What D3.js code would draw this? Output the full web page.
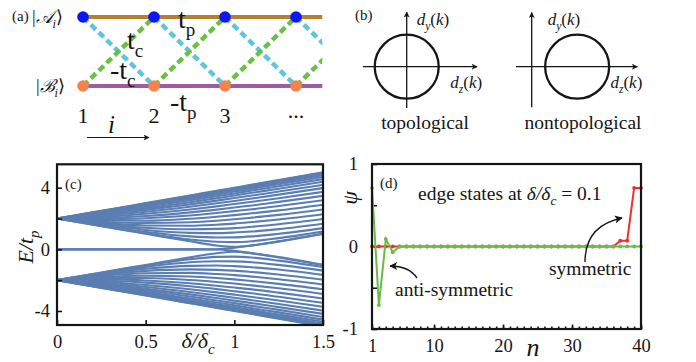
<!DOCTYPE html>
<html><head><meta charset="utf-8">
<script src="https://cdn.jsdelivr.net/npm/d3@7"></script>
<style>
html,body{margin:0;padding:0;background:#fff;}
svg{display:block;}
</style></head><body>
<svg id="fig" width="696" height="362"></svg>
<script>
// ---------------- data ----------------
// (a) ladder cells
const cells = [1, 2, 3, 4];
const cellLabels = ["1", "2", "3", "..."];
const railEnd = 4.37;

// (b) winding diagrams: circle centre along d_z (in units of the radius)
const bTitles = ["topological", "nontopological"];
const bCircleCenter = [0, 1.42];
const bAxisZ = [[-1.37, 2.2], [-0.49, 3.3]];
const bAxisY = [[-1.29, 1.71], [-1.27, 1.69]];

// (c) spectrum E/t_p versus delta/delta_c
const deltaSamples = [0, 0.25, 0.5, 0.75, 0.9, 1.0, 1.1, 1.25, 1.5];
const upperBand = [
  [2, 2.50, 3.00, 3.50, 3.80, 4.00, 4.20, 4.50, 5.00],
  [2, 2.49, 2.98, 3.48, 3.77, 3.97, 4.17, 4.47, 4.97],
  [2, 2.47, 2.95, 3.43, 3.73, 3.92, 4.12, 4.41, 4.91],
  [2, 2.44, 2.90, 3.37, 3.66, 3.85, 4.04, 4.33, 4.82],
  [2, 2.40, 2.84, 3.29, 3.57, 3.75, 3.94, 4.23, 4.70],
  [2, 2.36, 2.76, 3.19, 3.45, 3.63, 3.82, 4.09, 4.56],
  [2, 2.30, 2.66, 3.06, 3.32, 3.49, 3.67, 3.93, 4.39],
  [2, 2.24, 2.56, 2.92, 3.16, 3.33, 3.49, 3.75, 4.19],
  [2, 2.17, 2.44, 2.77, 2.99, 3.14, 3.30, 3.55, 3.98],
  [2, 2.10, 2.31, 2.59, 2.79, 2.94, 3.09, 3.32, 3.73],
  [2, 2.02, 2.16, 2.40, 2.58, 2.72, 2.85, 3.08, 3.47],
  [2, 1.95, 2.02, 2.20, 2.36, 2.48, 2.60, 2.81, 3.19],
  [2, 1.87, 1.86, 1.99, 2.12, 2.22, 2.34, 2.53, 2.90],
  [2, 1.79, 1.71, 1.76, 1.86, 1.95, 2.06, 2.24, 2.59],
  [2, 1.72, 1.55, 1.53, 1.60, 1.67, 1.77, 1.94, 2.28],
  [2, 1.65, 1.40, 1.30, 1.33, 1.38, 1.47, 1.63, 1.97],
  [2, 1.60, 1.26, 1.07, 1.05, 1.09, 1.16, 1.31, 1.66],
  [2, 1.55, 1.14, 0.84, 0.77, 0.78, 0.84, 1.01, 1.38],
  [2, 1.52, 1.05, 0.64, 0.49, 0.47, 0.53, 0.73, 1.15],
  [2, 1.50, 1.01, 0.52, 0.25, 0.16, 0.26, 0.53, 1.02]
];
const lowerBand = [
  [-2, -2.50, -3.00, -3.50, -3.80, -4.00, -4.20, -4.50, -5.00],
  [-2, -2.49, -2.98, -3.48, -3.77, -3.97, -4.17, -4.47, -4.97],
  [-2, -2.47, -2.95, -3.43, -3.73, -3.92, -4.12, -4.41, -4.91],
  [-2, -2.44, -2.90, -3.37, -3.66, -3.85, -4.04, -4.33, -4.82],
  [-2, -2.40, -2.84, -3.29, -3.57, -3.75, -3.94, -4.23, -4.70],
  [-2, -2.36, -2.76, -3.19, -3.45, -3.63, -3.82, -4.09, -4.56],
  [-2, -2.30, -2.66, -3.06, -3.32, -3.49, -3.67, -3.93, -4.39],
  [-2, -2.24, -2.56, -2.92, -3.16, -3.33, -3.49, -3.75, -4.19],
  [-2, -2.17, -2.44, -2.77, -2.99, -3.14, -3.30, -3.55, -3.98],
  [-2, -2.10, -2.31, -2.59, -2.79, -2.94, -3.09, -3.32, -3.73],
  [-2, -2.02, -2.16, -2.40, -2.58, -2.72, -2.85, -3.08, -3.47],
  [-2, -1.95, -2.02, -2.20, -2.36, -2.48, -2.60, -2.81, -3.19],
  [-2, -1.87, -1.86, -1.99, -2.12, -2.22, -2.34, -2.53, -2.90],
  [-2, -1.79, -1.71, -1.76, -1.86, -1.95, -2.06, -2.24, -2.59],
  [-2, -1.72, -1.55, -1.53, -1.60, -1.67, -1.77, -1.94, -2.28],
  [-2, -1.65, -1.40, -1.30, -1.33, -1.38, -1.47, -1.63, -1.97],
  [-2, -1.60, -1.26, -1.07, -1.05, -1.09, -1.16, -1.31, -1.66],
  [-2, -1.55, -1.14, -0.84, -0.77, -0.78, -0.84, -1.01, -1.38],
  [-2, -1.52, -1.05, -0.64, -0.49, -0.47, -0.53, -0.73, -1.15],
  [-2, -1.50, -1.01, -0.52, -0.25, -0.16, -0.26, -0.53, -1.02]
];
const edgeUpper = [0, 0, 0, 0, 0.01, 0.10, 0.25, 0.50, 1.00];
const edgeLower = [0, 0, 0, 0, -0.01, -0.10, -0.25, -0.50, -1.00];
const eTicks = [-4, -2, 0, 2, 4];
const eTickLabels = [-4, 0, 4];
const deltaTicks = [0, 0.5, 1, 1.5];

// (d) edge-state amplitudes on sites n = 1..40
const sites = [1,2,3,4,5,6,7,8,9,10,11,12,13,14,15,16,17,18,19,20,
               21,22,23,24,25,26,27,28,29,30,31,32,33,34,35,36,37,38,39,40];
const symmetric = [0,0,0,0,0,0,0,0,0,0, 0,0,0,0,0,0,0,0,0,0,
                   0,0,0,0,0,0,0,0,0,0, 0,0,0,0,0,0,0.07,0.07,0.71,0.71];
const antiSymmetric = [0.71,-0.71,0.09,-0.07,0,0,0,0,0,0, 0,0,0,0,0,0,0,0,0,0,
                       0,0,0,0,0,0,0,0,0,0, 0,0,0,0,0,0,0,0,0,0];
const nTicks = [1, 10, 20, 30, 40];
const psiTicks = [-1, -0.5, 0, 0.5, 1];
const psiTickLabels = [-1, 0, 1];

// ---------------- helpers ----------------
const FONT = "'Liberation Serif', 'DejaVu Serif', 'Times New Roman', serif";
const INK = "#151515";
const svg = d3.select("#fig");
const defs = svg.append("defs");

function arrowMarker(id, len, wid) {
  defs.append("marker").attr("id", id)
    .attr("viewBox", "0 0 10 10").attr("refX", 9).attr("refY", 5)
    .attr("markerUnits", "userSpaceOnUse")
    .attr("markerWidth", len).attr("markerHeight", wid)
    .attr("orient", "auto")
    .append("path").attr("d", "M0,0 L10,5 L0,10 L2.5,5 Z").attr("fill", INK);
}
arrowMarker("headSmall", 8, 6);
arrowMarker("headMid", 10, 8);

// rich text made of parts {t, it, sub}
function richText(g, x, y, size, parts, anchor) {
  const t = g.append("text").attr("x", x).attr("y", y)
    .attr("font-size", size).attr("text-anchor", anchor || "start");
  let shift = 0;
  parts.forEach(p => {
    const s = t.append("tspan").text(p.t);
    if (p.it) s.attr("font-style", "italic");
    const want = p.sub ? size * 0.28 : 0;
    if (want !== shift) { s.attr("dy", want - shift); shift = want; }
    s.attr("font-size", p.sub ? size * 0.68 : size);
  });
  return t;
}

// ---------------- (a) ladder ----------------
const ga = svg.append("g");
const ax = d3.scaleLinear().domain([1, 4]).range([83, 296]);
const rowA = 17, rowB = 86;
defs.append("clipPath").attr("id", "clipA")
  .append("rect").attr("x", 0).attr("y", 0).attr("width", ax(railEnd)).attr("height", 110);

const hops = ga.append("g").attr("clip-path", "url(#clipA)");
hops.selectAll("line.cyan").data(cells).join("line")
  .attr("x1", d => ax(d)).attr("y1", rowA).attr("x2", d => ax(d + 1)).attr("y2", rowB)
  .attr("stroke", "#5ec6dc").attr("stroke-width", 4.5).attr("stroke-dasharray", "7,4");
hops.selectAll("line.green").data(cells).join("line")
  .attr("x1", d => ax(d)).attr("y1", rowB).attr("x2", d => ax(d + 1)).attr("y2", rowA)
  .attr("stroke", "#6cbf45").attr("stroke-width", 4.5).attr("stroke-dasharray", "7,4");

ga.append("line").attr("x1", ax(1)).attr("x2", ax(railEnd)).attr("y1", rowA).attr("y2", rowA)
  .attr("stroke", "#b5802e").attr("stroke-width", 4);
ga.append("line").attr("x1", ax(1)).attr("x2", ax(railEnd)).attr("y1", rowB).attr("y2", rowB)
  .attr("stroke", "#a05aa6").attr("stroke-width", 4);

ga.selectAll("circle.a").data(cells).join("circle")
  .attr("cx", d => ax(d)).attr("cy", rowA).attr("r", 5.8).attr("fill", "#0d16f5");
ga.selectAll("circle.b").data(cells).join("circle")
  .attr("cx", d => ax(d)).attr("cy", rowB).attr("r", 5.8).attr("fill", "#f5834c");

ga.selectAll("text.cell").data(cells).join("text")
  .attr("x", d => ax(d)).attr("y", (d, i) => cellLabels[i] === "..." ? 118 : 123)
  .attr("text-anchor", "middle").attr("font-size", 22)
  .text((d, i) => cellLabels[i]);

ga.append("text").attr("x", 12).attr("y", 21).attr("font-size", 15).text("(a)");
richText(ga, 32, 23, 18, [{t: "|"}, {t: "𝒜", it: true}, {t: "i", it: true, sub: true}, {t: "⟩"}]);
richText(ga, 36, 92, 18, [{t: "|"}, {t: "ℬ", it: true}, {t: "i", it: true, sub: true}, {t: "⟩"}]);

richText(ga, 178, 28, 28, [{t: "t"}, {t: "p", sub: true}]);
richText(ga, 127, 49, 28, [{t: "t"}, {t: "c", sub: true}]);
richText(ga, 110, 79, 28, [{t: "-t"}, {t: "c", sub: true}]);
richText(ga, 170, 111, 28, [{t: "-t"}, {t: "p", sub: true}]);

ga.append("text").attr("x", 108).attr("y", 133).attr("font-size", 25)
  .attr("font-style", "italic").text("i");
ga.append("line").attr("x1", 87).attr("x2", 149).attr("y1", 137.5).attr("y2", 137.5)
  .attr("stroke", INK).attr("stroke-width", 1.1).attr("marker-end", "url(#headSmall)");

// ---------------- (b) winding diagrams ----------------
const gb = svg.append("g");
const bOrigins = [[406.7, 66.7], [531.7, 66.7]];
const bR = 32;
gb.append("text").attr("x", 355).attr("y", 20).attr("font-size", 15).text("(b)");
bTitles.forEach((title, i) => {
  const [ox, oy] = bOrigins[i];
  const sz = d3.scaleLinear().domain([0, 1]).range([ox, ox + bR]);
  const sy = d3.scaleLinear().domain([0, 1]).range([oy, oy - bR]);
  const g = gb.append("g");
  g.append("line").attr("x1", sz(bAxisZ[i][0])).attr("x2", sz(bAxisZ[i][1]))
    .attr("y1", sy(0)).attr("y2", sy(0))
    .attr("stroke", INK).attr("stroke-width", 1.3).attr("marker-end", "url(#headSmall)");
  g.append("line").attr("x1", sz(0)).attr("x2", sz(0))
    .attr("y1", sy(bAxisY[i][0])).attr("y2", sy(bAxisY[i][1]))
    .attr("stroke", INK).attr("stroke-width", 1.3).attr("marker-end", "url(#headSmall)");
  g.append("circle").attr("cx", sz(bCircleCenter[i])).attr("cy", sy(0)).attr("r", bR)
    .attr("fill", "none").attr("stroke", INK).attr("stroke-width", 2.3);
  richText(g, sz(0) + (i === 0 ? 10 : 16), 25, 17,
    [{t: "d", it: true}, {t: "y", it: true, sub: true}, {t: "("}, {t: "k", it: true}, {t: ")"}]);
  richText(g, sz(bAxisZ[i][1]) + 5, 88, 17,
    [{t: "d", it: true}, {t: "z", it: true, sub: true}, {t: "("}, {t: "k", it: true}, {t: ")"}], "end");
  g.append("text").attr("x", i === 0 ? 425 : 583).attr("y", 129)
    .attr("text-anchor", "middle").attr("font-size", 19.5).text(title);
});

// ---------------- (c) spectrum ----------------
const gc = svg.append("g");
const cx = d3.scaleLinear().domain([0, 1.5]).range([57, 323]);
const cy = d3.scaleLinear().domain([-4.91, 5.52]).range([325, 164.3]);
defs.append("clipPath").attr("id", "clipC").append("rect")
  .attr("x", cx(0)).attr("y", cy(5.52)).attr("width", cx(1.5) - cx(0)).attr("height", cy(-4.91) - cy(5.52));

const bandLine = d3.line()
  .x((v, i) => cx(deltaSamples[i])).y(v => cy(v))
  .curve(d3.curveMonotoneX);
const allLines = upperBand.concat(lowerBand, [edgeUpper, edgeLower]);
gc.append("g").attr("clip-path", "url(#clipC)")
  .selectAll("path").data(allLines).join("path")
  .attr("d", bandLine).attr("fill", "none")
  .attr("stroke", "#5a7eb1").attr("stroke-width", 2.1);

const cLeft = gc.append("g").attr("transform", `translate(${cx(0)},0)`)
  .call(d3.axisLeft(cy).tickValues(eTicks).tickSizeInner(-5).tickSizeOuter(0).tickPadding(7)
    .tickFormat(d => eTickLabels.includes(d) ? String(d) : ""));
const cBottom = gc.append("g").attr("transform", `translate(0,${cy(-4.91)})`)
  .call(d3.axisBottom(cx).tickValues(deltaTicks).tickSizeInner(-5).tickSizeOuter(0).tickPadding(10)
    .tickFormat(d => String(d)));
[cLeft, cBottom].forEach(a => {
  a.select(".domain").remove();
  a.selectAll(".tick line").attr("stroke", INK).attr("stroke-width", 1.6);
  a.selectAll(".tick text").attr("font-size", 18.5).attr("fill", INK);
});
gc.append("rect").attr("x", cx(0)).attr("y", cy(5.52))
  .attr("width", cx(1.5) - cx(0)).attr("height", cy(-4.91) - cy(5.52))
  .attr("fill", "none").attr("stroke", INK).attr("stroke-width", 2.2);
gc.append("text").attr("x", 65).attr("y", 189).attr("font-size", 15).text("(c)");
richText(gc, 198, 348, 22, [{t: "δ/δ", it: true}, {t: "c", it: true, sub: true}], "middle");
const eLab = richText(gc, 0, 0, 22, [{t: "E/t", it: true}, {t: "p", it: true, sub: true}], "middle");
eLab.attr("transform", "translate(33,247) rotate(-90)");

// ---------------- (d) edge states ----------------
const gd = svg.append("g");
const dx = d3.scaleLinear().domain([1, 40]).range([372, 641]);
const dy = d3.scaleLinear().domain([-1, 1]).range([329, 164]);

const dLeft = gd.append("g").attr("transform", `translate(${dx(1)},0)`)
  .call(d3.axisLeft(dy).tickValues(psiTicks).tickSizeInner(-5).tickSizeOuter(0).tickPadding(14)
    .tickFormat(d => psiTickLabels.includes(d) ? String(d) : ""));
const dMinor = gd.append("g").attr("transform", `translate(0,${dy(-1)})`)
  .call(d3.axisBottom(dx).tickValues(sites).tickSizeInner(-2.5).tickSizeOuter(0).tickFormat(""));
const dBottom = gd.append("g").attr("transform", `translate(0,${dy(-1)})`)
  .call(d3.axisBottom(dx).tickValues(nTicks).tickSizeInner(-4.5).tickSizeOuter(0).tickPadding(10)
    .tickFormat(d => String(d)));
[dLeft, dMinor, dBottom].forEach(a => {
  a.select(".domain").remove();
  a.selectAll(".tick line").attr("stroke", INK).attr("stroke-width", 1.6);
  a.selectAll(".tick text").attr("font-size", 18.5).attr("fill", INK);
});

const ampLine = d3.line().x((v, i) => dx(sites[i])).y(v => dy(v));
[[symmetric, "#ee2f2f"], [antiSymmetric, "#67bc45"]].forEach(([vals, col]) => {
  gd.append("path").attr("d", ampLine(vals)).attr("fill", "none")
    .attr("stroke", col).attr("stroke-width", 2);
  gd.append("g").selectAll("circle").data(vals).join("circle")
    .attr("cx", (v, i) => dx(sites[i])).attr("cy", v => dy(v)).attr("r", 1.9).attr("fill", col);
});

gd.append("rect").attr("x", dx(1)).attr("y", dy(1))
  .attr("width", dx(40) - dx(1)).attr("height", dy(-1) - dy(1))
  .attr("fill", "none").attr("stroke", INK).attr("stroke-width", 2.2);

gd.append("text").attr("x", 380).attr("y", 188).attr("font-size", 15).text("(d)");
richText(gd, 418, 200, 19.5, [{t: "edge states at "}, {t: "δ/δ", it: true},
  {t: "c", it: true, sub: true}, {t: " = 0.1"}]);
gd.append("text").attr("x", 549).attr("y", 275).attr("font-size", 19.5).text("symmetric");
gd.append("text").attr("x", 395).attr("y", 296).attr("font-size", 19.5).text("anti-symmetric");
gd.append("path").attr("d", "M585,262 C585,238 598,223 622,218")
  .attr("fill", "none").attr("stroke", INK).attr("stroke-width", 1.4)
  .attr("marker-end", "url(#headMid)");
gd.append("path").attr("d", "M417,278 Q409,266 390,266")
  .attr("fill", "none").attr("stroke", INK).attr("stroke-width", 1.4)
  .attr("marker-end", "url(#headMid)");

gd.append("text").attr("x", 533).attr("y", 356).attr("font-size", 26)
  .attr("font-style", "italic").attr("text-anchor", "middle").text("n");
gd.append("text").attr("transform", "translate(357,198) rotate(-90)")
  .attr("font-size", 22).attr("font-style", "italic").attr("text-anchor", "middle").text("ψ");

// one serif face for every label
svg.selectAll("text").attr("font-family", FONT).attr("fill", INK);
</script>
</body></html>
